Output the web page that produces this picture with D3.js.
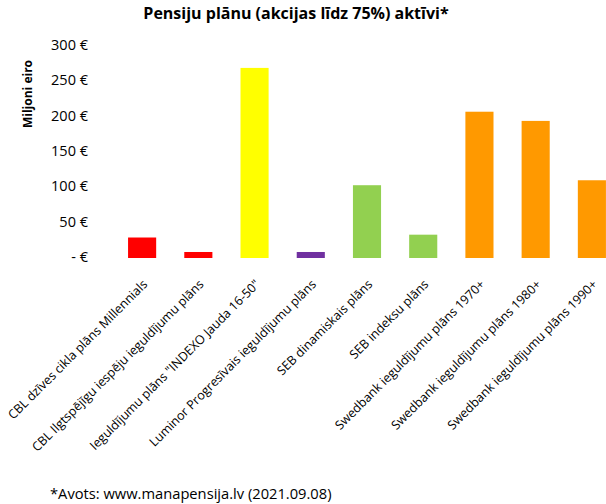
<!DOCTYPE html>
<html>
<head>
<meta charset="utf-8">
<script src="https://cdnjs.cloudflare.com/ajax/libs/d3/7.8.5/d3.min.js"></script>
<style>
  body { margin: 0; background: #fff; }
  text { font-family: "Open Sans", sans-serif; }
</style>
</head>
<body>
<div id="chart"></div>
<script>
const plans = [
    'CBL dzīves cikla plāns Millennials',
    'CBL Ilgtspējīgu iespēju ieguldījumu plāns',
    'Ieguldījumu plāns "INDEXO Jauda 16-50"',
    'Luminor Progresīvais ieguldījumu plāns',
    'SEB dinamiskais plāns',
    'SEB indeksu plāns',
    'Swedbank ieguldījumu plāns 1970+',
    'Swedbank ieguldījumu plāns 1980+',
    'Swedbank ieguldījumu plāns 1990+'
];
const assets = [29, 8.5, 269, 8.5, 103, 33, 207, 194, 110];
const barColors = ['#ff0000', '#ff0000', '#ffff00', '#7030a0', '#92d050', '#92d050', '#ff9900', '#ff9900', '#ff9900'];
const yTicks = [0, 50, 100, 150, 200, 250, 300];

const width = 606;
const height = 504;

const svg = d3.select('#chart')
    .append('svg')
    .attr('width', width)
    .attr('height', height);

const x = d3.scaleBand()
    .domain(plans)
    .range([114, 620])
    .paddingInner(0.5)
    .paddingOuter(0.25);

const y = d3.scaleLinear()
    .domain([0, 300])
    .range([258, 46]);

// title
svg.append('text')
    .attr('x', 296)
    .attr('y', 19)
    .attr('text-anchor', 'middle')
    .style('font-size', '16px')
    .style('font-weight', 'bold')
    .text('Pensiju plānu (akcijas līdz 75%) aktīvi*');

// y axis, labels only
const yAxis = d3.axisLeft(y)
    .tickValues(yTicks)
    .tickSize(0)
    .tickPadding(0)
    .tickFormat(d => d === 0 ? '- €' : `${d} €`);

svg.append('g')
    .attr('transform', 'translate(88, -1)')
    .call(yAxis)
    .call(g => g.select('.domain').remove())
    .selectAll('text')
    .style('font-family', '"Open Sans", sans-serif')
    .style('font-size', '14.5px')
    .attr('fill', '#000');

svg.append('text')
    .attr('transform', 'translate(32, 94) rotate(-90)')
    .attr('text-anchor', 'middle')
    .style('font-size', '12px')
    .style('font-weight', 'bold')
    .text('Miljoni eiro');

// bars
svg.append('g')
    .selectAll('rect')
    .data(plans)
    .enter()
    .append('rect')
    .attr('x', d => x(d))
    .attr('y', (d, i) => y(assets[i]))
    .attr('width', x.bandwidth())
    .attr('height', (d, i) => y(0) - y(assets[i]))
    .attr('fill', (d, i) => barColors[i]);

// category labels
const xAxis = d3.axisBottom(x).tickSize(0).tickPadding(0);

svg.append('g')
    .attr('transform', `translate(0, ${y(0)})`)
    .call(xAxis)
    .call(g => g.select('.domain').remove())
    .selectAll('text')
    .style('font-family', '"Open Sans", sans-serif')
    .style('font-size', '12.5px')
    .attr('fill', '#000')
    .attr('text-anchor', 'end')
    .attr('dy', '0.35em')
    .attr('transform', 'translate(3, 24) rotate(-45)');

// source
svg.append('text')
    .attr('x', 50)
    .attr('y', 499)
    .style('font-size', '14.7px')
    .text('*Avots: www.manapensija.lv (2021.09.08)');
</script>
</body>
</html>
